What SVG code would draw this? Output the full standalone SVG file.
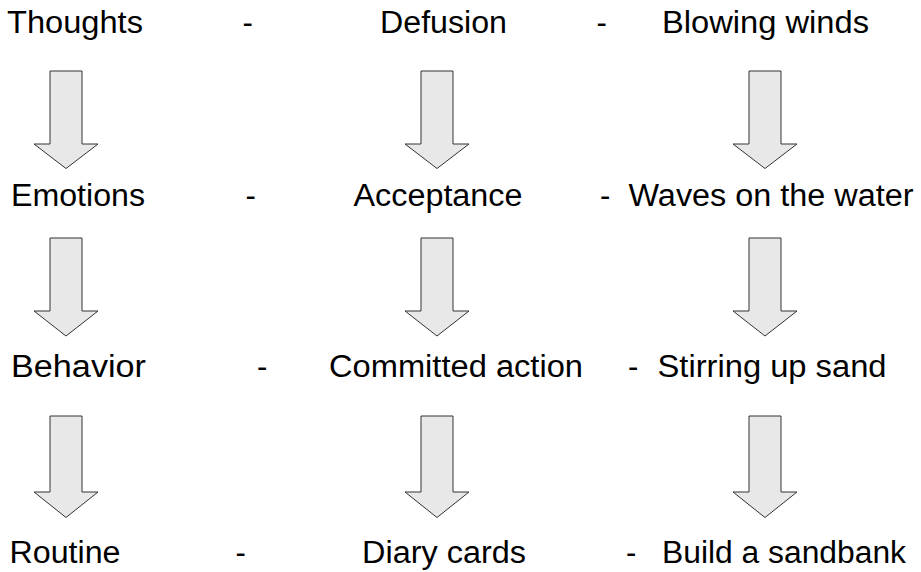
<svg xmlns="http://www.w3.org/2000/svg" width="921" height="572" viewBox="0 0 921 572">
  <style>
    .t { font-family: "Liberation Sans", Arial, Helvetica, sans-serif; font-size: 31px; fill: #000; }
    .arrow { fill: #e8e8e8; stroke: #333; stroke-width: 1; stroke-linejoin: miter; }
  </style>
  <rect width="921" height="572" fill="#fff"/>

  <!-- Row 1 -->
  <g id="thoughts"><text class="t" x="7" y="33" textLength="136" lengthAdjust="spacingAndGlyphs">Thoughts</text></g>
  <g id="dash-1a"><text class="t" x="242.5" y="33">-</text></g>
  <g id="defusion"><text class="t" x="380" y="33" textLength="127" lengthAdjust="spacingAndGlyphs">Defusion</text></g>
  <g id="dash-1b"><text class="t" x="596.5" y="33">-</text></g>
  <g id="blowing-winds"><text class="t" x="662" y="33" textLength="207" lengthAdjust="spacingAndGlyphs">Blowing winds</text></g>

  <!-- Row 2 -->
  <g id="emotions"><text class="t" x="11" y="205.5" textLength="134" lengthAdjust="spacingAndGlyphs">Emotions</text></g>
  <g id="dash-2a"><text class="t" x="245.5" y="205.5">-</text></g>
  <g id="acceptance"><text class="t" x="353.5" y="205.5" textLength="169" lengthAdjust="spacingAndGlyphs">Acceptance</text></g>
  <g id="waves"><text class="t" x="600" y="205.5">-</text><text class="t" x="628.5" y="205.5" textLength="285" lengthAdjust="spacingAndGlyphs">Waves on the water</text></g>

  <!-- Row 3 -->
  <g id="behavior"><text class="t" x="11" y="376.5" textLength="135" lengthAdjust="spacingAndGlyphs">Behavior</text></g>
  <g id="dash-3a"><text class="t" x="257" y="376.5">-</text></g>
  <g id="committed-action"><text class="t" x="329" y="376.5" textLength="254" lengthAdjust="spacingAndGlyphs">Committed action</text></g>
  <g id="stirring"><text class="t" x="628" y="376.5">-</text><text class="t" x="657.5" y="376.5" textLength="229" lengthAdjust="spacingAndGlyphs">Stirring up sand</text></g>

  <!-- Row 4 -->
  <g id="routine"><text class="t" x="9.5" y="563" textLength="111" lengthAdjust="spacingAndGlyphs">Routine</text></g>
  <g id="dash-4a"><text class="t" x="235.5" y="563">-</text></g>
  <g id="diary-cards"><text class="t" x="362" y="563" textLength="164" lengthAdjust="spacingAndGlyphs">Diary cards</text></g>
  <g id="sandbank"><text class="t" x="626" y="563">-</text><text class="t" x="662" y="563" textLength="244" lengthAdjust="spacingAndGlyphs">Build a sandbank</text></g>

  <!-- Block arrows between rows -->
  <g id="connectors">
    <polygon class="arrow" points="50,71 82,71 82,144 98,144 66,168.5 34,144 50,144"/>
    <polygon class="arrow" points="421,71 453,71 453,144 469,144 437,168.5 405,144 421,144"/>
    <polygon class="arrow" points="749,71 781,71 781,144 797,144 765,168.5 733,144 749,144"/>

    <polygon class="arrow" points="50,238 82,238 82,311 98,311 66,336 34,311 50,311"/>
    <polygon class="arrow" points="421,238 453,238 453,311 469,311 437,336 405,311 421,311"/>
    <polygon class="arrow" points="749,238 781,238 781,311 797,311 765,336 733,311 749,311"/>

    <polygon class="arrow" points="50,416 82,416 82,492 98,492 66,517.5 34,492 50,492"/>
    <polygon class="arrow" points="421,416 453,416 453,492 469,492 437,517.5 405,492 421,492"/>
    <polygon class="arrow" points="749,416 781,416 781,492 797,492 765,517.5 733,492 749,492"/>
  </g>
</svg>
